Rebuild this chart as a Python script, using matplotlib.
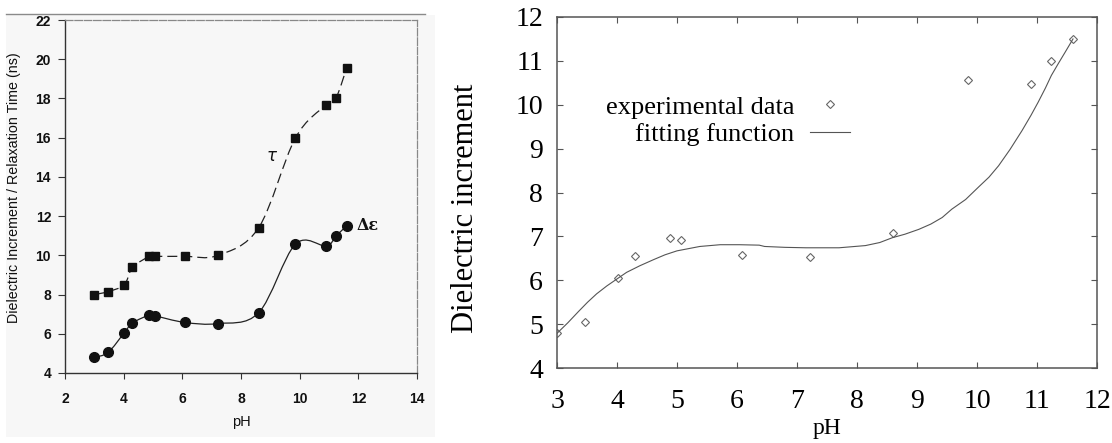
import numpy as np
import matplotlib
matplotlib.use("Agg")
import matplotlib.pyplot as plt
from matplotlib.path import Path
from matplotlib.patches import PathPatch, Rectangle
from matplotlib.lines import Line2D

# measured data (both panels share the same pH points)
ph = [3.0, 3.47, 4.02, 4.3, 4.88, 5.06, 6.08, 7.22, 8.6, 9.85, 10.9, 11.24, 11.6]
tau = [8.0, 8.15, 8.5, 9.38, 9.95, 9.95, 9.95, 10.0, 11.4, 15.97, 17.67, 18.03, 19.55]
deps = [4.8, 5.05, 6.05, 6.55, 6.96, 6.92, 6.58, 6.52, 7.07, 10.56, 10.48, 10.99, 11.5]

# fitting function
fit_ph = [3.0, 3.18, 3.36, 3.51, 3.66, 3.83, 4.0, 4.16, 4.38, 4.61, 4.8, 5.0, 5.19, 5.38,
          5.72, 6.04, 6.37, 6.46, 6.8, 7.15, 7.7, 8.14, 8.38, 8.59, 8.8, 9.03, 9.23,
          9.42, 9.58, 9.81, 10.03, 10.2, 10.36, 10.55, 10.75, 10.9, 11.02, 11.14, 11.24,
          11.36, 11.47, 11.6]
fit_val = [4.79, 5.03, 5.29, 5.5, 5.69, 5.87, 6.03, 6.18, 6.33, 6.47, 6.58, 6.67, 6.72, 6.77,
           6.81, 6.81, 6.8, 6.77, 6.75, 6.74, 6.74, 6.79, 6.86, 6.97, 7.05, 7.16, 7.28,
           7.43, 7.62, 7.84, 8.13, 8.35, 8.61, 8.98, 9.41, 9.76, 10.06, 10.38, 10.67,
           10.95, 11.2, 11.5]


def smooth_path(x, y):
    # excel-style smoothed line: bezier through every point
    pts = np.column_stack([x, y])
    verts = [pts[0]]
    codes = [Path.MOVETO]
    for i in range(len(pts) - 1):
        p0 = pts[i - 1] if i > 0 else pts[i]
        p1 = pts[i]
        p2 = pts[i + 1]
        p3 = pts[i + 2] if i + 2 < len(pts) else pts[i + 1]
        verts += [p1 + (p2 - p0) / 6, p2 - (p3 - p1) / 6, p2]
        codes += [Path.CURVE4] * 3
    return Path(verts, codes)


W, H = 1112, 443
fig = plt.figure(figsize=(W / 100, H / 100), dpi=100)
fig.patch.set_facecolor("white")

# scanned panel background + the line above it
bg = "#f7f7f7"
fig.add_artist(Rectangle((6 / W, 1 - 437 / H), 429 / W, 422 / H, transform=fig.transFigure,
                         facecolor=bg, edgecolor="none", zorder=0))
fig.add_artist(Line2D([6 / W, 425 / W], [1 - 14 / H, 1 - 14 / H], transform=fig.transFigure,
                      color="#8a8a8a", lw=1.0))

# ---------------- left panel ----------------
ax1 = fig.add_axes([65 / W, 1 - 373 / H, 352 / W, 353 / H])
ax1.set_facecolor(bg)
ax1.set_xlim(2, 14)
ax1.set_ylim(4, 22)
ax1.set_xticks(range(2, 15, 2))
ax1.set_yticks(range(4, 23, 2))

ax1.add_patch(PathPatch(smooth_path(ph, tau), fill=False, color="#222222", lw=0.9,
                        linestyle=(0, (8, 4))))
ax1.add_patch(PathPatch(smooth_path(ph, deps), fill=False, color="#222222", lw=0.9))
ax1.plot(ph, tau, "s", color="#111111", ms=6.4, zorder=3)
ax1.plot(ph, deps, "o", color="#111111", ms=7.0, zorder=3)

ax1.text(9.07, 15.05, r"$\tau$", fontsize=12, fontweight="bold", ha="center", va="center",
         color="#111111")
ax1.text(12.3, 11.5, "Δε", family="DejaVu Serif", fontsize=11.5, fontweight="bold",
         ha="center", va="center", color="#111111")

for s in ["left", "bottom"]:
    ax1.spines[s].set_color("#333333")
    ax1.spines[s].set_linewidth(1.0)
for s in ["top", "right"]:
    ax1.spines[s].set_color("#888888")
    ax1.spines[s].set_linewidth(0.9)
    ax1.spines[s].set_linestyle((0, (6, 1.5)))
ax1.tick_params(axis="y", direction="out", length=5, width=0.8, color="#333333", pad=5)
ax1.tick_params(axis="x", direction="out", length=4, width=0.8, color="#333333", pad=10)
for lab in ax1.get_xticklabels() + ax1.get_yticklabels():
    lab.set_family("Liberation Sans")
    lab.set_fontsize(10)
    lab.set_fontweight("bold")
    lab.set_color("#111111")
ax1.set_ylabel("Dielectric Increment / Relaxation Time (ns)", family="Liberation Sans",
               fontsize=10.3, color="#111111")
ax1.yaxis.set_label_coords(-0.125, 0.524)
ax1.set_xlabel("pH", family="Liberation Sans", fontsize=10.5, color="#111111")
ax1.xaxis.set_label_coords(0.5, -0.118)

# ---------------- right panel ----------------
ax2 = fig.add_axes([557 / W, 1 - 368 / H, 540 / W, 351 / H])
ax2.set_xlim(3, 12)
ax2.set_ylim(4, 12)
ax2.set_xticks(range(3, 13))
ax2.set_yticks(range(4, 13))

ax2.plot(ph, deps, "D", mfc="none", mec="#666666", mew=0.8, ms=3.6, linestyle="none",
         label="experimental data")
ax2.plot(fit_ph, fit_val, "-", color="#555555", lw=0.8, label="fitting function")

for s in ax2.spines.values():
    s.set_color("#555555")
    s.set_linewidth(1.1)
ax2.tick_params(direction="in", top=True, right=True, length=4, width=0.8, color="#555555")
ax2.tick_params(axis="x", pad=15)
ax2.tick_params(axis="y", pad=10)
for lab in ax2.get_xticklabels() + ax2.get_yticklabels():
    lab.set_family("Liberation Serif")
    lab.set_fontsize(20)
ax2.set_ylabel("Dielectric increment", family="Liberation Serif", fontsize=22)
ax2.yaxis.set_label_coords(-0.143, 0.456)
ax2.set_xlabel("pH", family="Liberation Serif", fontsize=17)
ax2.xaxis.set_label_coords(0.5, -0.142)

leg = ax2.legend(loc="center right", bbox_to_anchor=((850 - 557) / 540, (368 - 120.5) / 351),
                 markerfirst=False, frameon=False, numpoints=1, handlelength=1.5,
                 handletextpad=0.6, labelspacing=0.15, borderpad=0, borderaxespad=0,
                 prop={"family": "Liberation Serif", "size": 19})

fig.savefig("out.png", dpi=100, facecolor=fig.get_facecolor())
